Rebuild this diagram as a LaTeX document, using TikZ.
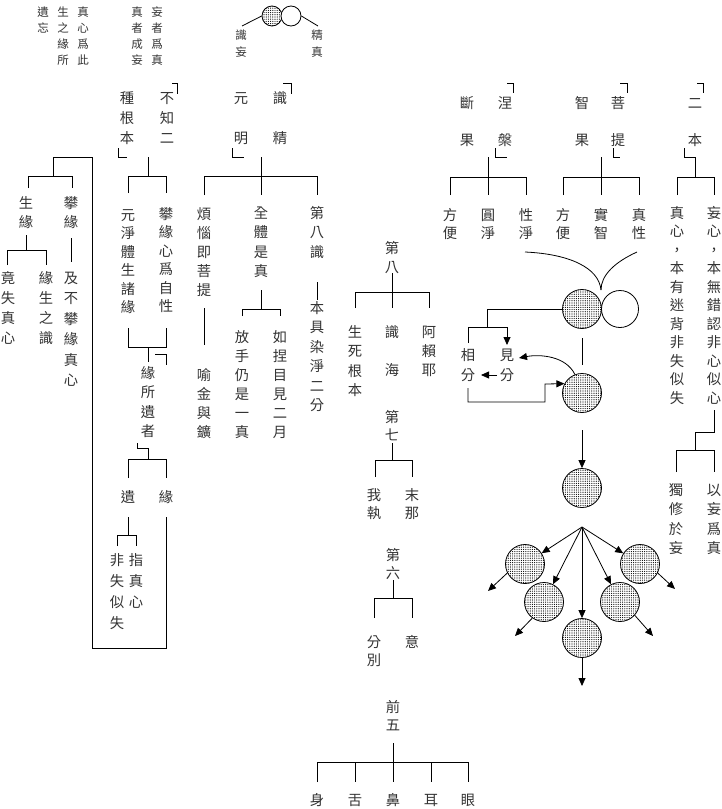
\documentclass[tikz,border=0pt]{standalone}
\usepackage{fontspec}
\newfontfamily\cjk{Noto Sans CJK TC}
\usetikzlibrary{arrows.meta,patterns,patterns.meta}
\tikzset{
 ch/.style={font=\cjk\fontsize{14.3}{16}\selectfont, text=black!80, inner sep=0pt, text height=12.58pt, text depth=1.72pt},
 chs/.style={font=\cjk\fontsize{11.5}{14}\selectfont, text=black!80, inner sep=0pt, text height=10.12pt, text depth=1.38pt},
 ln/.style={line width=0.8pt},
 arr/.style={line width=0.8pt, -{Triangle[length=8pt,width=7pt]}},
 dotc/.style={circle, draw, line width=0.8pt, minimum size=39pt, inner sep=0pt, preaction={fill=white}, pattern={Dots[distance=2.2pt, radius=0.6pt]}},
 whc/.style={circle, draw, line width=0.8pt, minimum size=37pt, inner sep=0pt, fill=white},
}
\newcommand\vcol[6][ch]{\foreach \c [count=\i] in {#6} {\node[#1] (#2-\i) at (#3,{#4+(\i-1)*#5}) {\c};}}
\begin{document}
\begin{tikzpicture}[x=1pt,y=-1pt]
\useasboundingbox (0,0) rectangle (722,809);
% ---------- top-left small text
\vcol[chs]{tla}{43}{12}{16}{遺,忘}
\vcol[chs]{tlb}{63}{12}{16}{生,之,緣,所}
\vcol[chs]{tlc}{83}{12}{16}{真,心,爲,此}
\vcol[chs]{tld}{137}{12}{16}{真,者,成,妄}
\vcol[chs]{tle}{157}{12}{16}{妄,者,爲,真}
% top circles
\node[dotc, minimum size=20pt] (t1) at (272,16) {};
\node[whc, minimum size=20pt] (t2) at (291,16) {};
\coordinate (t1e) at (242,26);
\coordinate (t2e) at (318,26);
\draw[ln] (t1e) -- (t1.west);
\draw[ln] (t2.east) -- (t2e);
\vcol[chs]{sw}{241}{35}{17}{識,妄}
\vcol[chs]{jz}{317}{35}{17}{精,真}
% ---------- 不知二種根本
\vcol{zg}{127}{98}{20}{種,根,本}
\vcol{bz}{167}{98}{20}{不,知,二}
\draw[ln] (172,83) -- (177,83) -- (177,94);
\draw[ln] (118,148) -- (118,157) -- (127,157);
\draw[ln] (148,157) -- (148,176);
\draw[ln] (128,193) -- (128,176) -- (166,176) -- (166,193);
\vcol{yj}{128}{215}{18.5}{元,淨,體,生,諸,緣}
\vcol{px}{166}{214}{18.5}{攀,緣,心,爲,自,性}
\draw[ln] (128,328) -- (128,347) -- (166,347) -- (166,328);
\draw[ln] (148,347) -- (148,362);
\draw[ln] (155,354) -- (166,354) -- (166,365);
\vcol{lsz}{148}{373}{19.5}{緣,所,遺,者}
\draw[ln] (137,443) -- (137,448) -- (148,448) -- (148,459);
\draw[ln] (128,478) -- (128,459) -- (166,459) -- (166,478);
\node[ch] (yi) at (128,497) {遺};
\node[ch] (yu) at (166,497) {緣};
\draw[ln] (128,517) -- (128,535);
\draw[ln] (117,546) -- (117,535) -- (136,535) -- (136,546);
\vcol{fs}{117}{560}{21}{非,失,似,失}
\vcol{zz}{136}{560}{21}{指,真,心}
\draw[ln] (166,517) -- (166,648) -- (92,648) -- (92,157) -- (53,157) -- (53,176);
\draw[ln] (28,188) -- (28,176) -- (72,176) -- (72,188);
\vcol{ss}{26}{203}{19}{生,緣}
\vcol{pl}{71}{203}{19}{攀,緣}
\draw[ln] (26,235) -- (26,250);
\draw[ln] (7,265) -- (7,250) -- (46,250) -- (46,265);
\vcol{js}{8}{278}{20}{竟,失,真,心}
\vcol{lsh}{46}{278}{20}{緣,生,之,識}
\draw[ln] (71,238) -- (71,262);
\vcol{jb}{71}{278}{20.5}{及,不,攀,緣,真,心}
% ---------- 識精元明
\vcol{ym}{241}{98}{40}{元,明}
\vcol{sj}{280}{98}{40}{識,精}
\draw[ln] (283,83) -- (291,83) -- (291,94);
\draw[ln] (232,148) -- (232,157) -- (244,157);
\draw[ln] (261,157) -- (261,195);
\draw[ln] (204,195) -- (204,176) -- (317,176) -- (317,195);
\vcol{fn}{204}{214}{19}{煩,惱,即,菩,提}
\vcol{qt}{261}{213}{19.5}{全,體,是,真}
\vcol{db}{317}{213}{19.5}{第,八,識}
\draw[ln] (317,282) -- (317,300);
\vcol{bj}{317}{308}{19.5}{本,具,染,淨,二,分}
\draw[ln] (261,290) -- (261,309);
\draw[ln] (242,316) -- (242,309) -- (280,309) -- (280,316);
\vcol{fss}{242}{337}{19}{放,手,仍,是,一,真}
\vcol{rn}{280}{337}{19}{如,捏,目,見,二,月}
\draw[ln] (204,308) -- (204,345);
\vcol{yjy}{204}{375}{19}{喻,金,與,鑛}
% ---------- center column
\vcol{deight}{392}{248}{19}{第,八}
\draw[ln] (392,273) -- (392,308);
\draw[ln] (355,308) -- (355,292) -- (429,292) -- (429,308);
\vcol{ssg}{355}{332}{19.3}{生,死,根,本}
\node[ch] (shi) at (392,332) {識};
\node[ch] (hai) at (392,370) {海};
\vcol{alv}{429}{332}{19}{阿,賴,耶}
\vcol{dseven}{392}{417}{18}{第,七}
\draw[ln] (392,443) -- (392,460);
\draw[ln] (375,477) -- (375,460) -- (412,460) -- (412,477);
\vcol{wz}{374}{495}{18}{我,執}
\vcol{mn}{412}{495}{18}{末,那}
\vcol{dsix}{393}{555}{18}{第,六}
\draw[ln] (393,580) -- (393,598);
\draw[ln] (374,618) -- (374,598) -- (412,598) -- (412,618);
\vcol{fb}{374}{642}{18}{分,別}
\node[ch] (yis) at (412,642) {意};
\vcol{qw}{393}{707}{18}{前,五}
\draw[ln] (393,743) -- (393,782);
\draw[ln] (317,782) -- (317,762) -- (468,762) -- (468,782);
\draw[ln] (355,762) -- (355,782);
\draw[ln] (431,762) -- (431,782);
\node[ch] (shen) at (317,800) {身};
\node[ch] (she) at (355,800) {舌};
\node[ch] (bi) at (393,800) {鼻};
\node[ch] (er) at (431,800) {耳};
\node[ch] (yan) at (468,800) {眼};
% ---------- right top
\vcol{dg}{467}{103}{37}{斷,果}
\vcol{np}{505}{103}{37}{涅,槃}
\draw[ln] (507,83) -- (513,83) -- (513,93);
\draw[ln] (495,148) -- (495,157) -- (507,157);
\draw[ln] (488,157) -- (488,195);
\draw[ln] (450,195) -- (450,177) -- (526,177) -- (526,195);
\vcol{fba}{450}{215}{18}{方,便}
\vcol{yjb}{488}{215}{18}{圓,淨}
\vcol{xj}{526}{215}{18}{性,淨}
\vcol{zgb}{582}{103}{37}{智,果}
\vcol{pt}{618}{103}{37}{菩,提}
\draw[ln] (620,83) -- (627,83) -- (627,93);
\draw[ln] (613,148) -- (613,157) -- (620,157);
\draw[ln] (601,157) -- (601,195);
\draw[ln] (563,195) -- (563,177) -- (639,177) -- (639,195);
\vcol{fbb}{563}{215}{18}{方,便}
\vcol{sz}{601}{215}{18}{實,智}
\vcol{zx}{639}{215}{18}{真,性}
\vcol{eb}{695}{103}{37}{二,本}
\draw[ln] (697,83) -- (703,83) -- (703,93);
\draw[ln] (684,148) -- (684,157) -- (695,157) -- (695,177);
\draw[ln] (677,195) -- (677,177) -- (714,177) -- (714,195);
\vcol{zxl}{677}{213}{18.5}{真,心,，,本,有,迷,背,非,失,似,失}
\vcol{wxl}{714}{213}{18.5}{妄,心,，,本,無,錯,認,非,心,似,心}
\draw[ln] (714,410) -- (714,432) -- (695,432) -- (695,450);
\draw[ln] (676,472) -- (676,450) -- (714,450) -- (714,472);
\vcol{dx}{676}{490}{19.3}{獨,修,於,妄}
\vcol{yw}{714}{490}{19.3}{以,妄,爲,真}
% ---------- circles
\draw[ln] (525,252) .. controls (570,254) and (599,268) .. (601,290);
\draw[ln] (637,252) .. controls (615,262) and (601,275) .. (601,290);
\node[dotc] (c1) at (582,309) {};
\node[whc] (w1) at (620,309) {};
\draw[ln] (c1.west) -- (487,309) -- (487,327);
\draw[ln] (468,343) -- (468,327) -- (507,327);
\draw[arr] (507,327) -- (507,345);
\vcol{xf}{468}{355}{20}{相,分}
\vcol{jf}{507}{355}{20}{見,分}
\draw[arr] (497,375) -- (481,375);
\node[dotc] (c2) at (582,393) {};
\draw[arr] (c2.111) .. controls (566,356) and (540,354) .. (519,358);
\draw[ln] (582,338) -- (582,365);
\draw[arr] (468,388) -- (468,402) -- (545,402) -- (545,384) -- (c2.152);
\node[dotc] (c3) at (582,488) {};
\coordinate (c3in) at (582,430);
\draw[arr] (c3in) -- (c3);
\coordinate (F) at (582,527);
\node[dotc] (ul) at (525,564) {};
\node[dotc] (ll) at (544,602) {};
\node[dotc] (bc) at (582,638) {};
\node[dotc] (lr) at (620,602) {};
\node[dotc] (ur) at (640,564) {};
\draw[arr] (F) -- (ul);
\draw[arr] (F) -- (ll);
\draw[arr] (F) -- (bc);
\draw[arr] (F) -- (lr);
\draw[arr] (F) -- (ur);
\coordinate (o1) at (488,591);
\coordinate (o2) at (515,636);
\coordinate (o3) at (582,686);
\coordinate (o4) at (653,636);
\coordinate (o5) at (675,589);
\draw[arr] (ul.207) -- (o1);
\draw[arr] (ll.234) -- (o2);
\draw[arr] (bc.south) -- (o3);
\draw[arr] (lr.318) -- (o4);
\draw[arr] (ur.333) -- (o5);
\end{tikzpicture}
\end{document}
